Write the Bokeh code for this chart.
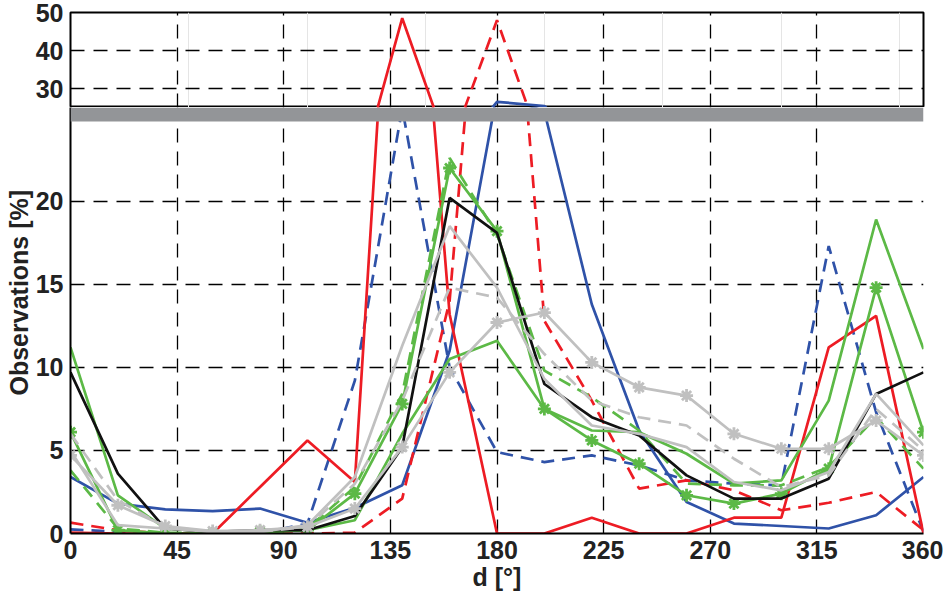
from bokeh.plotting import figure
from bokeh.layouts import column
from bokeh.models import FixedTicker, BoxAnnotation, Range1d, Grid, Title
from bokeh.embed import file_html
from bokeh.resources import INLINE

# ---------------- data ----------------
direction = [0, 20, 40, 60, 80, 100, 120, 140, 160, 180, 200, 220, 240, 260, 280, 300, 320, 340, 360]

red_solid = [0.05, 0, 0, 0, 2.8, 5.6, 3.1, 48.5, 13.2, 0, 0, 0.95, 0, 0, 0.95, 0.95, 11.2, 13.1, 0]
red_dashed = [0.65, 0.2, 0, 0, 0, 0, 0.05, 2.1, 14.0, 48.0, 12.8, 8.0, 2.7, 3.2, 2.6, 1.4, 1.85, 2.5, 0.2]
blue_solid = [3.4, 1.8, 1.45, 1.35, 1.5, 0.65, 1.55, 2.9, 11.0, 26.5, 25.4, 13.8, 6.2, 1.9, 0.6, 0.45, 0.3, 1.1, 3.4]
blue_dashed = [0.25, 0.1, 0, 0, 0, 0.6, 9.2, 25.6, 10.0, 4.9, 4.3, 4.7, 4.1, 3.2, 3.0, 2.9, 17.3, 7.3, 0.1]
black_solid = [9.7, 3.6, 0.3, 0.1, 0.2, 0.2, 1.05, 5.2, 20.2, 18.1, 9.0, 7.0, 5.9, 3.5, 2.1, 2.1, 3.3, 8.4, 9.7]
green_solid = [11.2, 2.3, 0.3, 0.1, 0.1, 0.2, 0.8, 6.0, 10.5, 11.6, 7.5, 6.2, 6.1, 4.8, 3.0, 3.2, 8.0, 18.9, 11.1]
green_star = [6.1, 0.2, 0, 0, 0.1, 0.2, 2.4, 7.8, 22.0, 18.2, 7.5, 5.6, 4.2, 2.3, 1.8, 2.4, 3.9, 14.8, 6.1]
green_dashed = [3.8, 0.3, 0.05, 0, 0, 0.3, 2.8, 8.4, 22.6, 18.0, 9.8, 8.2, 6.2, 3.0, 2.9, 2.9, 4.0, 7.0, 3.9]
gray_star = [4.7, 1.7, 0.45, 0.15, 0.2, 0.4, 1.5, 5.2, 9.7, 12.7, 13.3, 10.3, 8.8, 8.3, 6.0, 5.1, 5.1, 6.8, 4.7]
gray_solid = [5.0, 0.5, 0.3, 0.1, 0.1, 0.5, 3.4, 11.3, 18.5, 14.8, 9.3, 6.5, 6.0, 5.2, 3.1, 2.6, 3.7, 8.4, 5.3]
gray_dashed = [6.0, 2.0, 0.4, 0.1, 0.1, 0.4, 3.0, 8.0, 14.8, 14.2, 10.8, 8.0, 7.0, 6.5, 4.5, 2.8, 3.5, 7.5, 5.0]

x_ticks = [0, 45, 90, 135, 180, 225, 270, 315, 360]
upper_ticks = [30, 40, 50]
lower_ticks = [0, 5, 10, 15, 20]
x_label = "d [°]"
y_label = "Observations [%]"

# ---------------- styles ----------------
RED = "#ED1C24"
BLUE = "#2F52A8"
GREEN = "#5CB946"
BLACK = "#111111"
GRAY = "#C0C0C0"
BAND = "#939598"
FONT = "Liberation Sans"
FS = "25px"
TXT = "#222222"
DASH = "13 8"

series = [
    (blue_dashed, BLUE, DASH, False),
    (blue_solid, BLUE, "solid", False),
    (red_dashed, RED, DASH, False),
    (red_solid, RED, "solid", False),
    (green_dashed, GREEN, DASH, False),
    (green_solid, GREEN, "solid", False),
    (green_star, GREEN, "solid", True),
    (black_solid, BLACK, "solid", False),
    (gray_dashed, GRAY, DASH, False),
    (gray_solid, GRAY, "solid", False),
    (gray_star, GRAY, "solid", True),
]

FW = 853
LB = 70
RB = 20
x_range = Range1d(0, 360)

UPPER_H = 95
LOWER_H = 426
BAND_PX = 14
band_bottom = 24.8
lower_top = band_bottom * LOWER_H / (LOWER_H - BAND_PX)


def add_series(p):
    for vals, col, dash, star in series:
        p.line(direction, vals, line_color=col, line_width=2.7, line_dash=dash)
        if star:
            p.scatter(direction, vals, marker="asterisk", size=13, line_color=col, line_width=2.8)


def grid(p, dim, ticks):
    g = Grid(dimension=dim, ticker=FixedTicker(ticks=ticks), grid_line_color="black",
             grid_line_width=1.3, grid_line_dash="14 9")
    p.add_layout(g)


def style_axis(ax):
    ax.major_tick_line_color = None
    ax.minor_tick_line_color = None
    ax.major_tick_out = 0
    ax.major_tick_in = 0
    ax.minor_tick_out = 0
    ax.major_label_text_font = FONT
    ax.major_label_text_font_style = "bold"
    ax.major_label_text_font_size = FS
    ax.major_label_text_color = TXT


# upper panel
up = figure(x_range=x_range, y_range=Range1d(25, 50), frame_width=FW, frame_height=UPPER_H,
            min_border_left=LB, min_border_right=RB, min_border_top=12, min_border_bottom=0,
            x_axis_location=None, output_backend="svg", toolbar_location=None, tools="")
up.ygrid.visible = False
grid(up, 0, x_ticks)
grid(up, 1, upper_ticks)
up.yaxis.ticker = FixedTicker(ticks=upper_ticks)
up.outline_line_color = "black"
up.outline_line_width = 2
up.yaxis.axis_line_color = None
style_axis(up.yaxis)
up.yaxis.major_label_standoff = 7
add_series(up)

# lower panel
lo = figure(x_range=x_range, y_range=Range1d(0, lower_top), frame_width=FW, frame_height=LOWER_H,
            min_border_left=LB, min_border_right=RB, min_border_top=0,
            output_backend="svg", toolbar_location=None, tools="")
lo.xgrid.visible = False
lo.ygrid.visible = False
grid(lo, 0, x_ticks)
grid(lo, 1, lower_ticks)
lo.outline_line_color = None
lo.xaxis.ticker = FixedTicker(ticks=x_ticks)
lo.yaxis.ticker = FixedTicker(ticks=lower_ticks)
for ax in (lo.xaxis, lo.yaxis):
    ax.axis_line_color = "black"
    ax.axis_line_width = 2
    style_axis(ax)
lo.yaxis.major_label_standoff = 7
lo.xaxis.major_label_standoff = 7
lo.xaxis.axis_label = x_label
lo.xaxis.axis_label_text_font = FONT
lo.xaxis.axis_label_text_font_style = "bold"
lo.xaxis.axis_label_text_font_size = FS
lo.xaxis.axis_label_text_color = TXT
lo.xaxis.axis_label_standoff = 1
add_series(lo)

lo.add_layout(BoxAnnotation(bottom=band_bottom, fill_color=BAND, fill_alpha=1.0,
                            line_color=None, level="overlay"))
lo.add_layout(Title(text=y_label, align="left", offset=138, standoff=0,
                    text_font=FONT, text_font_style="bold", text_font_size=FS,
                    text_color=TXT), "left")

layout = column(up, lo)
open("out.html", "w").write(file_html(layout, INLINE))
